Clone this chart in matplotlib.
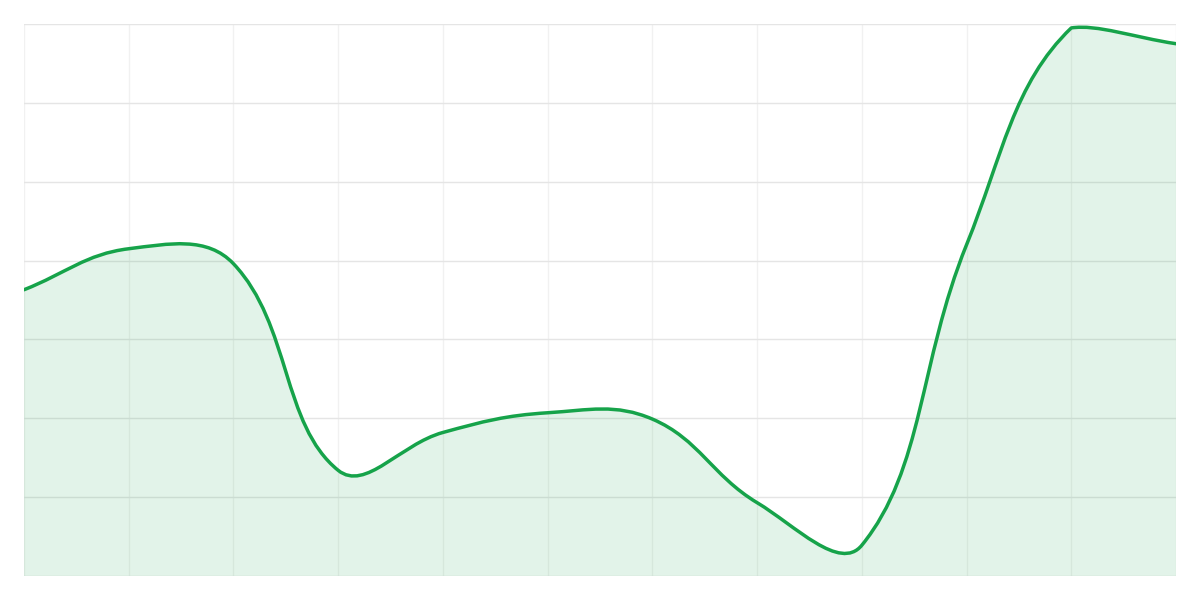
import matplotlib
matplotlib.use("Agg")
import matplotlib.pyplot as plt
import numpy as np
from matplotlib.path import Path
from matplotlib.patches import PathPatch

# Data (12 points, y scale 0..70)
labels = [str(i) for i in range(1, 13)]
values = [36.3, 41.5, 39.6, 13.4, 18.2, 20.7, 19.9, 9.3, 3.9, 42.0, 69.5, 67.5]

LINE = "#16a34a"
TENSION = 0.4

fig = plt.figure(figsize=(12, 6), dpi=100)
ax = fig.add_axes([24 / 1200, 24 / 600, 1152 / 1200, 552 / 600])
n = len(values)
xs = np.arange(n, dtype=float)
ax.set_xlim(0, n - 1)
ax.set_ylim(0, 70)

# grid
ax.set_xticks(xs)
ax.set_yticks(np.arange(0, 71, 10))
ax.tick_params(length=0, labelbottom=False, labelleft=False)
for x in xs:
    ax.axvline(x, color="#f1f1f1", lw=1, zorder=0)
for y in np.arange(0, 71, 10):
    ax.axhline(y, color="#e5e5e5", lw=1, zorder=0)
for s in ax.spines.values():
    s.set_visible(False)

# Chart.js-style spline computed in pixel space
fig.canvas.draw()
T = ax.transData
pts = T.transform(np.column_stack([xs, values]))
bb = ax.bbox
cps = []
for i in range(n):
    cur = pts[i]
    prev = pts[i - 1] if i > 0 else cur
    nxt = pts[i + 1] if i < n - 1 else cur
    d01 = np.hypot(*(cur - prev))
    d12 = np.hypot(*(nxt - cur))
    tot = d01 + d12
    s01 = d01 / tot if tot else 0
    s12 = d12 / tot if tot else 0
    pc = cur - TENSION * s01 * (nxt - prev)
    nc = cur + TENSION * s12 * (nxt - prev)
    def cap(p):
        return np.array([min(max(p[0], bb.x0), bb.x1), min(max(p[1], bb.y0), bb.y1)])
    cps.append((cap(pc), cap(nc)))

verts = [pts[0]]
codes = [Path.MOVETO]
for i in range(n - 1):
    verts += [cps[i][1], cps[i + 1][0], pts[i + 1]]
    codes += [Path.CURVE4] * 3
inv = T.inverted()
dverts = inv.transform(np.array(verts))

line_path = Path(dverts, codes)
fill_verts = list(dverts) + [[xs[-1], 0], [xs[0], 0], dverts[0]]
fill_codes = codes + [Path.LINETO, Path.LINETO, Path.CLOSEPOLY]
fill_path = Path(fill_verts, fill_codes)

ax.add_patch(PathPatch(fill_path, facecolor=LINE, alpha=0.12, edgecolor="none", zorder=1))
ax.add_patch(PathPatch(line_path, facecolor="none", edgecolor=LINE, lw=2.5, zorder=3,
                       capstyle="round", joinstyle="round"))

fig.savefig("out.png", dpi=100, facecolor="white")
